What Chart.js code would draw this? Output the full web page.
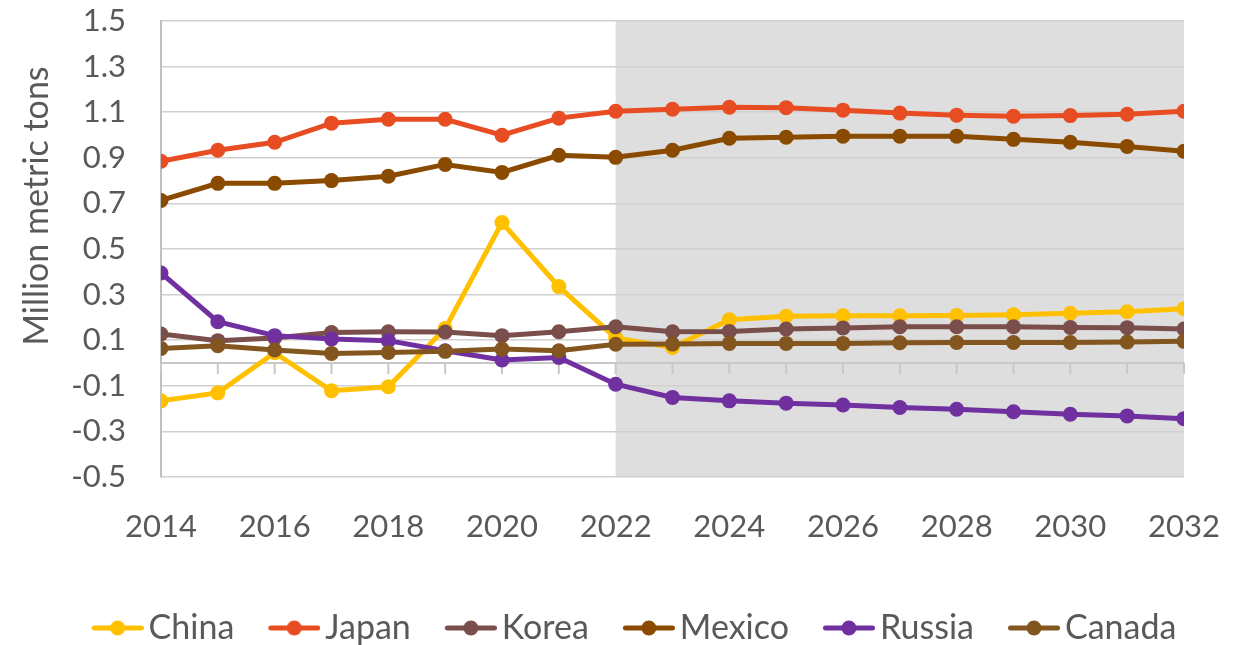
<!DOCTYPE html>
<html>
<head>
<meta charset="utf-8">
<script src="https://cdn.jsdelivr.net/npm/chart.js@4"></script>
<style>
html,body{margin:0;padding:0;background:#fff;}
#wrap{width:1237px;height:645px;}
</style>
</head>
<body>
<div id="wrap"><canvas id="c" width="1237" height="645"></canvas></div>
<script>
const years = [2014,2015,2016,2017,2018,2019,2020,2021,2022,2023,2024,2025,2026,2027,2028,2029,2030,2031,2032];
const china  = [-0.166,-0.131,0.045,-0.122,-0.104,0.151,0.616,0.335,0.11,0.068,0.19,0.205,0.207,0.207,0.208,0.212,0.218,0.225,0.238];
const japan  = [0.885,0.933,0.968,1.052,1.069,1.069,0.999,1.074,1.104,1.113,1.122,1.120,1.109,1.096,1.087,1.082,1.085,1.091,1.104];
const korea  = [0.127,0.098,0.110,0.134,0.137,0.136,0.120,0.137,0.159,0.137,0.138,0.149,0.154,0.159,0.159,0.159,0.156,0.155,0.149];
const mexico = [0.713,0.788,0.788,0.800,0.819,0.871,0.836,0.911,0.902,0.933,0.986,0.990,0.995,0.995,0.995,0.981,0.968,0.950,0.929];
const russia = [0.395,0.181,0.120,0.105,0.098,0.054,0.013,0.024,-0.093,-0.151,-0.166,-0.176,-0.184,-0.195,-0.203,-0.214,-0.225,-0.232,-0.244];
const canada = [0.064,0.076,0.057,0.042,0.046,0.051,0.061,0.054,0.082,0.083,0.086,0.086,0.086,0.089,0.090,0.090,0.090,0.092,0.095];
const seriesNames = ['China','Japan','Korea','Mexico','Russia','Canada'];
const seriesData = [china, japan, korea, mexico, russia, canada];
const seriesColors = ['#FFC000','#E84C22','#7A4E4B','#8A4A00','#7030A0','#84561F'];
const yTicks = [-0.5,-0.3,-0.1,0.1,0.3,0.5,0.7,0.9,1.1,1.3,1.5];
const yTitle = 'Million metric tons';
const projectionStart = 2022;
const projectionEnd = 2032;

const FONT = 'Lato, "Open Sans", sans-serif';
const TXT = '#595959';

// legend icon geometry
const LEG_FONT = 34;
const LEG_PAD = 4;
const P = 70;            // pointStyleWidth
const ICON_W = 52;
const ICON_START = 30;   // icon start relative to item x
const CANVAS_W = 2 * (ICON_START + ICON_W - P / 2);
function legendIcon(color){
  const cv = document.createElement('canvas');
  cv.width = CANVAS_W; cv.height = 18;
  const g = cv.getContext('2d');
  const left = P / 2 - CANVAS_W / 2;
  const s = ICON_START - left;
  g.strokeStyle = color; g.lineWidth = 5; g.lineCap = 'round';
  g.beginPath(); g.moveTo(s + 2.5, 9); g.lineTo(s + ICON_W - 2.5, 9); g.stroke();
  g.fillStyle = color; g.beginPath(); g.arc(s + ICON_W / 2, 9, 7.5, 0, Math.PI * 2); g.fill();
  return cv;
}

const decorPlugin = {
  id: 'decor',
  afterLayout(chart){
    const lg = chart.legend;
    if (lg) { lg.left += 27; lg.right += 27; lg.top += 10; lg.bottom += 10; }
  },
  beforeDraw(chart){
    const {ctx, chartArea, scales} = chart;
    const x0 = scales.x.getPixelForValue(projectionStart);
    const x1 = scales.x.getPixelForValue(projectionEnd);
    ctx.save();
    ctx.fillStyle = '#DEDEDE';
    ctx.fillRect(x0, chartArea.top, x1 - x0, chartArea.bottom - chartArea.top);
    ctx.restore();
  },
  beforeDatasetsDraw(chart){
    const {ctx, chartArea, scales} = chart;
    const y0 = scales.y.getPixelForValue(0);
    ctx.save();
    ctx.strokeStyle = '#C8C8C8';
    ctx.lineWidth = 2;
    ctx.beginPath();
    ctx.moveTo(chartArea.left, y0); ctx.lineTo(chartArea.right, y0);
    years.forEach(yr => {
      const x = scales.x.getPixelForValue(yr);
      ctx.moveTo(x, y0); ctx.lineTo(x, y0 + 11);
    });
    ctx.stroke();
    ctx.restore();
  },
  afterDraw(chart){
    const {ctx, chartArea} = chart;
    ctx.save();
    ctx.translate(37, (chartArea.top + chartArea.bottom) / 2 - 43);
    ctx.rotate(-Math.PI / 2);
    ctx.font = '34px ' + FONT;
    ctx.fillStyle = TXT;
    ctx.textAlign = 'center';
    ctx.textBaseline = 'middle';
    ctx.fillText(yTitle, 0, 0);
    ctx.restore();
  }
};

const datasets = seriesNames.map((n,i) => ({
  label: n,
  data: years.map((y,k) => ({x:y, y:seriesData[i][k]})),
  borderColor: seriesColors[i],
  backgroundColor: seriesColors[i],
  borderWidth: 5,
  pointRadius: 7.5,
  pointHoverRadius: 7.5,
  pointBorderWidth: 0,
  pointStyle: 'circle',
  tension: 0,
  order: seriesNames.length - i
}));
const icons = seriesColors.map(legendIcon);

new Chart(document.getElementById('c'), {
  type: 'line',
  data: { datasets },
  plugins: [decorPlugin],
  options: {
    responsive: false,
    animation: false,
    events: [],
    layout: { autoPadding: false, padding: { top: 21, right: 53, left: 0, bottom: 0 } },
    plugins: {
      tooltip: { enabled: false },
      legend: {
        position: 'bottom',
        labels: {
          usePointStyle: true,
          pointStyleWidth: P,
          boxHeight: 18,
          padding: LEG_PAD,
          color: TXT,
          font: { family: FONT, size: LEG_FONT },
          generateLabels(chart){
            return chart.data.datasets.map((d,i) => ({
              text: d.label,
              fillStyle: d.borderColor,
              strokeStyle: d.borderColor,
              lineWidth: 0,
              pointStyle: icons[i],
              fontColor: TXT,
              hidden: false,
              datasetIndex: i
            }));
          }
        }
      }
    },
    scales: {
      x: {
        type: 'linear',
        min: 2014, max: 2032,
        grid: { display: true, drawOnChartArea: false, drawTicks: true, tickLength: 31, tickColor: 'rgba(0,0,0,0)' },
        border: { display: false },
        afterFit(s){ s.height = 120; },
        ticks: {
          stepSize: 2,
          padding: 0,
          color: TXT,
          font: { family: FONT, size: 31 },
          maxRotation: 0,
          callback: v => String(v)
        }
      },
      y: {
        min: -0.5, max: 1.5,
        afterBuildTicks(s){ s.ticks = yTicks.map(v => ({value:v})); },
        afterFit(s){ s.width = 161; },
        grid: { color: '#D0D0D0', lineWidth: 1.5, drawTicks: true, tickLength: 35, tickColor: 'rgba(0,0,0,0)' },
        border: { display: true, color: '#BFBFBF', width: 2 },
        ticks: {
          padding: 0,
          color: TXT,
          font: { family: FONT, size: 31 },
          callback: v => v.toFixed(1)
        },
        title: { display: false, text: yTitle }
      }
    }
  }
});
</script>
</body>
</html>
